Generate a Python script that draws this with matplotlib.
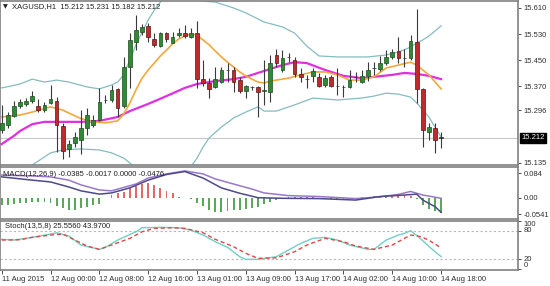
import matplotlib
matplotlib.use("Agg")
import matplotlib.pyplot as plt
from matplotlib.patches import Rectangle

FONT = ['Liberation Sans', 'DejaVu Sans']
plt.rcParams['font.family'] = FONT

# ---------------- data ----------------
opens = [15.236, 15.251, 15.279, 15.310, 15.316, 15.325, 15.310, 15.297, 15.319, 15.325,
         15.248, 15.178, 15.196, 15.205, 15.242, 15.251, 15.267, 15.328, 15.328, 15.362,
         15.310, 15.429, 15.506, 15.536, 15.555, 15.515, 15.493, 15.533, 15.503, 15.527,
         15.533, 15.521, 15.533, 15.392, 15.380, 15.368, 15.383, 15.420, 15.420, 15.389,
         15.356, 15.368, 15.368, 15.356, 15.353, 15.466, 15.420, 15.460, 15.451, 15.408,
         15.392, 15.402, 15.399, 15.374, 15.399, 15.371, 15.368, 15.368, 15.399, 15.383,
         15.402, 15.426, 15.423, 15.441, 15.460, 15.478, 15.457, 15.457, 15.506, 15.362,
         15.230, 15.242, 15.212]
highs = [15.313, 15.291, 15.325, 15.331, 15.334, 15.356, 15.331, 15.322, 15.374, 15.337,
         15.258, 15.205, 15.230, 15.297, 15.304, 15.282, 15.365, 15.343, 15.374, 15.365,
         15.460, 15.533, 15.588, 15.561, 15.564, 15.533, 15.536, 15.536, 15.536, 15.549,
         15.558, 15.549, 15.570, 15.451, 15.395, 15.429, 15.429, 15.441, 15.429, 15.399,
         15.374, 15.371, 15.371, 15.451, 15.466, 15.484, 15.481, 15.472, 15.460, 15.426,
         15.405, 15.426, 15.411, 15.405, 15.405, 15.426, 15.374, 15.420, 15.414, 15.420,
         15.444, 15.444, 15.463, 15.481, 15.484, 15.521, 15.484, 15.527, 15.607, 15.365,
         15.258, 15.258, 15.231]
lows = [15.227, 15.242, 15.276, 15.304, 15.310, 15.319, 15.291, 15.291, 15.316, 15.169,
        15.147, 15.153, 15.184, 15.163, 15.221, 15.245, 15.264, 15.319, 15.322, 15.276,
        15.304, 15.365, 15.481, 15.527, 15.506, 15.490, 15.490, 15.506, 15.503, 15.521,
        15.518, 15.518, 15.365, 15.371, 15.334, 15.365, 15.380, 15.383, 15.353, 15.349,
        15.334, 15.359, 15.276, 15.313, 15.322, 15.429, 15.414, 15.444, 15.399, 15.383,
        15.365, 15.383, 15.368, 15.368, 15.368, 15.343, 15.337, 15.365, 15.383, 15.380,
        15.386, 15.405, 15.417, 15.435, 15.454, 15.441, 15.429, 15.451, 15.319, 15.184,
        15.205, 15.166, 15.182]
closes = [15.258, 15.282, 15.310, 15.322, 15.325, 15.340, 15.297, 15.313, 15.331, 15.251,
          15.172, 15.193, 15.215, 15.242, 15.282, 15.267, 15.322, 15.329, 15.359, 15.304,
          15.429, 15.512, 15.543, 15.552, 15.521, 15.497, 15.533, 15.515, 15.521, 15.533,
          15.524, 15.533, 15.392, 15.380, 15.362, 15.392, 15.420, 15.419, 15.383, 15.356,
          15.371, 15.367, 15.353, 15.359, 15.441, 15.441, 15.457, 15.459, 15.408, 15.399,
          15.391, 15.417, 15.371, 15.395, 15.371, 15.370, 15.367, 15.389, 15.398, 15.402,
          15.420, 15.425, 15.441, 15.460, 15.475, 15.457, 15.456, 15.509, 15.362, 15.236,
          15.245, 15.205, 15.212]

ma_fast_idx = [0, 3, 5, 8, 10, 11, 13, 15, 17, 19, 20, 21, 22, 23, 24, 25, 26, 27, 28, 29,
               30, 31, 32, 33, 34, 35, 36, 37, 38, 39, 40, 41, 42, 43, 44, 45, 47, 49, 51,
               53, 55, 57, 59, 61, 63, 65, 67, 68, 70, 72]
ma_fast = [15.276, 15.282, 15.291, 15.307, 15.297, 15.288, 15.271, 15.261, 15.258, 15.264,
           15.285, 15.319, 15.359, 15.395, 15.420, 15.441, 15.463, 15.481, 15.500, 15.515,
           15.524, 15.530, 15.527, 15.512, 15.497, 15.478, 15.460, 15.444, 15.429, 15.414,
           15.402, 15.392, 15.383, 15.380, 15.386, 15.389, 15.395, 15.405, 15.414, 15.414,
           15.405, 15.389, 15.389, 15.399, 15.426, 15.435, 15.444, 15.435, 15.405, 15.362]

ma_slow_idx = [0, 2, 3, 5, 7, 10, 13, 16, 19, 21, 24, 27, 30, 32, 35, 38, 40, 43, 46, 48,
               50, 53, 56, 59, 61, 64, 66, 68, 70, 72]
ma_slow = [15.193, 15.218, 15.233, 15.254, 15.261, 15.261, 15.261, 15.264, 15.276, 15.294,
           15.316, 15.340, 15.365, 15.377, 15.386, 15.392, 15.399, 15.417, 15.435, 15.444,
           15.441, 15.420, 15.402, 15.395, 15.399, 15.405, 15.411, 15.408, 15.402, 15.392]

bb_up_idx = [0, 3, 5, 7, 9, 11, 14, 16, 18, 19, 20, 21, 22, 23, 24, 25, 26, 27, 29, 31, 33,
             35, 36, 38, 40, 43, 46, 48, 50, 52, 55, 60, 63, 65, 67, 68, 69, 70, 72]
bb_up = [15.365, 15.377, 15.392, 15.383, 15.389, 15.383, 15.368, 15.362, 15.374, 15.383,
         15.405, 15.451, 15.497, 15.536, 15.573, 15.604, 15.628, 15.650, 15.665, 15.659,
         15.631, 15.628, 15.622, 15.610, 15.595, 15.567, 15.552, 15.533, 15.493, 15.463,
         15.460, 15.460, 15.466, 15.475, 15.490, 15.503, 15.512, 15.524, 15.555]

bb_lo_idx = [0, 3, 5, 6, 8, 10, 13, 16, 18, 20, 21, 22, 25, 28, 30, 31, 32, 33, 34, 36, 38,
             40, 42, 43, 45, 48, 51, 55, 59, 61, 63, 65, 67, 68, 70, 71, 72]
bb_lo = [15.098, 15.114, 15.129, 15.141, 15.166, 15.175, 15.178, 15.175, 15.166, 15.150,
         15.135, 15.117, 15.089, 15.083, 15.101, 15.123, 15.150, 15.184, 15.212, 15.245,
         15.273, 15.291, 15.307, 15.294, 15.294, 15.313, 15.334, 15.328, 15.334, 15.340,
         15.349, 15.346, 15.337, 15.319, 15.276, 15.245, 15.215]

last_price = 15.212
price_ticks = [15.610, 15.530, 15.450, 15.370, 15.296, 15.135]

macd_hist = [-0.024, -0.022, -0.020, -0.018, -0.016, -0.015, -0.015, -0.015, -0.018, -0.027,
             -0.035, -0.040, -0.040, -0.035, -0.029, -0.024, -0.020, 0.000, 0.010, 0.016,
             0.021, 0.032, 0.040, 0.047, 0.051, 0.044, 0.032, 0.025, 0.016, 0.004,
             0.000, -0.004, -0.018, -0.027, -0.040, -0.048, -0.046, -0.044, -0.042, -0.040,
             -0.037, -0.032, -0.029, -0.021, -0.012, -0.006, -0.003, 0.002, 0.004, 0.004,
             0.003, 0.002, -0.002, -0.003, -0.004, -0.004, -0.004, -0.003, -0.002, 0.002,
             0.004, 0.006, 0.008, 0.009, 0.010, 0.010, 0.009, 0.006, -0.004, -0.022,
             -0.036, -0.044, -0.050]
macd_sig_idx = [0, 5, 8, 11, 13, 16, 18, 22, 24, 27, 30, 33, 35, 38, 41, 43, 47, 52, 58,
                62, 65, 67, 69, 72]
macd_sig = [0.077, 0.074, 0.071, 0.060, 0.044, 0.027, 0.024, 0.047, 0.067, 0.081, 0.091,
            0.081, 0.064, 0.047, 0.030, 0.017, 0.008, 0.005, -0.002, 0.004, 0.012, 0.022,
            0.010, -0.001]
macd_main_idx = [0, 5, 8, 11, 13, 16, 18, 21, 24, 27, 30, 33, 36, 39, 42, 46, 52, 58, 62,
                 66, 68, 69, 71, 72]
macd_main = [0.071, 0.060, 0.054, 0.037, 0.024, 0.013, 0.017, 0.034, 0.060, 0.079, 0.089,
             0.067, 0.034, 0.016, 0.001, -0.001, -0.002, -0.007, 0.005, 0.010, 0.013,
             -0.007, -0.029, -0.048]
macd_ticks = [0.084, 0.0, -0.0541]
macd_tick_labels = ["0.084", "0.00", "-0.0541"]

stoch_main_idx = [0, 2, 5, 8, 9, 11, 13, 16, 17, 19, 22, 23, 26, 29, 31, 33, 35, 37, 39,
                  40, 42, 45, 47, 49, 51, 53, 55, 57, 60, 61, 63, 65, 66, 67, 68, 69, 70,
                  71, 72]
stoch_main = [61.9, 60.4, 66.1, 73.0, 75.7, 68.8, 49.9, 40.9, 45.1, 60.4, 77.8, 86.2, 87.1,
              86.2, 81.4, 70.9, 56.9, 45.1, 25.4, 19.9, 19.9, 25.4, 39.4, 53.5, 64.0, 66.1,
              60.4, 49.9, 40.9, 40.9, 60.4, 70.9, 74.5, 80.0, 70.0, 59.0, 47.0, 36.0, 25.556]
stoch_sig_idx = [0, 3, 5, 8, 10, 12, 14, 16, 18, 21, 23, 25, 28, 30, 33, 35, 38, 40, 42,
                 45, 48, 50, 53, 56, 58, 61, 64, 67, 68, 69, 70, 71, 72]
stoch_sig = [60.4, 61.0, 66.1, 70.9, 73.0, 60.4, 47.8, 40.9, 49.9, 64.0, 77.8, 85.0, 86.2,
             85.0, 75.7, 61.9, 46.4, 32.5, 22.0, 23.0, 35.9, 49.9, 64.0, 56.9, 47.8, 40.9,
             49.9, 70.9, 69.5, 66.0, 60.0, 52.0, 43.97]
stoch_levels = [20, 80]

time_idx = [0, 8, 16, 24, 32, 40, 48, 56, 64, 72]
time_labels = ["11 Aug 2015", "12 Aug 00:00", "12 Aug 08:00", "12 Aug 16:00",
               "13 Aug 01:00", "13 Aug 09:00", "13 Aug 17:00", "14 Aug 02:00",
               "14 Aug 10:00", "14 Aug 18:00"]

# ---------------- figure ----------------
W, H = 550, 286
fig = plt.figure(figsize=(5.5, 2.86), dpi=100)
fig.patch.set_facecolor('white')
FS = 5.5


def ax_px(x0, y0, x1, y1):
    return fig.add_axes([x0 / W, 1 - y1 / H, (x1 - x0) / W, (y1 - y0) / H])


ax1 = ax_px(0, 1, 518, 165)
ax2 = ax_px(0, 167, 518, 219)
ax3 = ax_px(0, 221, 518, 270)

XL = (-0.28, 84.6)
for ax in (ax1, ax2, ax3):
    ax.set_xlim(*XL)
    ax.set_facecolor('white')
    for s in ax.spines.values():
        s.set_color('#808080')
        s.set_linewidth(1.2)
    ax.yaxis.tick_right()
    ax.tick_params(axis='y', which='both', direction='out', length=2, pad=2,
                   labelsize=FS, colors='#303030', width=0.6)
    ax.tick_params(axis='x', which='both', bottom=False, labelbottom=False)

# ---- main price panel ----
ax1.set_ylim(15.1288, 15.6314)
ax1.axhline(last_price, color='#c8c8c8', lw=0.8, zorder=1)
ax1.plot(bb_up_idx, bb_up, color='#86bcbf', lw=0.9, zorder=2)
ax1.plot(bb_lo_idx, bb_lo, color='#86bcbf', lw=0.9, zorder=2)
ax1.plot(ma_slow_idx, ma_slow, color='#e22ee2', lw=1.6, zorder=3)
ax1.plot(ma_fast_idx, ma_fast, color='#f2a83a', lw=1.2, zorder=3)

bw = 0.6
for i, (o, h, l, c) in enumerate(zip(opens, highs, lows, closes)):
    up = c >= o
    ax1.vlines(i, l, h, color='#3a3a3a', lw=0.8, zorder=4)
    bottom = min(o, c)
    height = max(abs(c - o), 0.0012)
    fc = '#2f8a35' if up else '#c02a2a'
    ec = '#1d4d1d' if up else '#5a1515'
    if abs(c - o) < 0.002:
        fc = '#303030'
        ec = '#303030'
    ax1.add_patch(Rectangle((i - bw / 2, bottom), bw, height, facecolor=fc,
                            edgecolor=ec, lw=0.5, zorder=5))

ax1.set_yticks(price_ticks)
ax1.set_yticklabels(["%.3f" % v for v in price_ticks])
ax1.text(1.006, last_price, "%.3f" % last_price, transform=ax1.get_yaxis_transform(),
         ha='left', va='center', fontsize=FS, color='white', clip_on=False,
         bbox=dict(boxstyle='square,pad=0.2', fc='black', ec='black'))

# ---- MACD panel ----
ax2.set_ylim(-0.0706, 0.1042)
hcol = ['#e06a6a' if v > 0 else '#5aa85a' for v in macd_hist]
ax2.bar(range(len(macd_hist)), macd_hist, width=0.3, color=hcol, zorder=2)
ax2.plot(macd_sig_idx, macd_sig, color='#9a78c8', lw=1.1, zorder=3)
ax2.plot(macd_main_idx, macd_main, color='#4c4a8c', lw=1.1, zorder=3)
ax2.set_yticks(macd_ticks)
ax2.set_yticklabels(macd_tick_labels)

# ---- Stochastic panel ----
ax3.set_ylim(-2.5, 100.4)
for lv in stoch_levels:
    ax3.axhline(lv, color='#b8b8b8', lw=0.8, ls=(0, (2, 2)), zorder=1)
ax3.plot(stoch_main_idx, stoch_main, color='#72cfc6', lw=1.0, zorder=3)
ax3.plot(stoch_sig_idx, stoch_sig, color='#e04848', lw=1.0, ls=(0, (3, 2)), zorder=3)
ax3.set_yticks([100, 80, 20, 0])
ax3.set_yticklabels(["100", "80", "20", "0"])
for lab, va in zip(ax3.get_yticklabels(), ['top', 'center', 'center', 'bottom']):
    lab.set_va(va)

ax3.tick_params(axis='x', bottom=True, labelbottom=True, direction='out', length=3,
                pad=1.5, labelsize=FS, colors='#303030', width=0.6)
ax3.set_xticks(time_idx)
ax3.set_xticklabels(time_labels, ha='left')

# ---- panel captions ----
def fig_txt(x, y, s, **kw):
    fig.text(x / W, 1 - y / H, s, fontsize=kw.pop('fontsize', FS), va='center',
             ha='left', color=kw.pop('color', '#202020'), **kw)

fig_txt(3, 6.5, "\u25BC", fontsize=4.5, family=['DejaVu Sans'])
fig_txt(12, 7, "XAGUSD,H1  15.212 15.231 15.182 15.212")
fig_txt(3, 175, "MACD(12,26,9) -0.0385 -0.0017 0.0000 -0.0476")
fig_txt(5, 227, "Stoch(13,5,8) 25.5560 43.9700")

fig.savefig("out.png", dpi=100, facecolor='white')
